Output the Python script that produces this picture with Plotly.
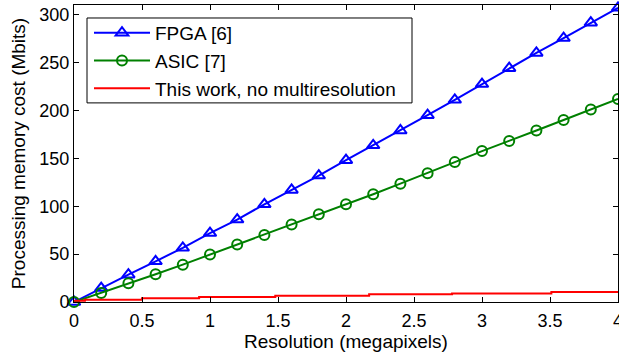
import plotly.graph_objects as go

# Data
res_x = [0, 0.2, 0.4, 0.6, 0.8, 1.0, 1.2, 1.4, 1.6, 1.8, 2.0,
         2.2, 2.4, 2.6, 2.8, 3.0, 3.2, 3.4, 3.6, 3.8, 4.0]
fpga = [0, 14.5, 28.5, 42.5, 56.5, 72, 86, 102, 117, 132, 148,
        163.5, 179, 195, 211, 227.5, 244, 260, 275.5, 291.5, 307]
asic = [0, 9.5, 19.5, 29, 39, 49.5, 60, 70, 81, 91.5, 102,
        112.5, 123.5, 134.5, 146, 157.5, 168, 179, 190, 201, 212]
this_x = [0, 0.08, 0.5, 0.92, 1.48, 2.17, 2.78, 3.51, 4.0]
this_y = [1.4, 2.4, 3.8, 5.2, 6.6, 8.2, 9.0, 10.4, 10.4]

x_ticks = [0, 0.5, 1, 1.5, 2, 2.5, 3, 3.5, 4]
x_ticklabels = ["0", "0.5", "1", "1.5", "2", "2.5", "3", "3.5", "4"]
y_ticks = [0, 50, 100, 150, 200, 250, 300]

FONT = "Liberation Sans, Arial, sans-serif"

fig = go.Figure()
fig.add_trace(go.Scatter(
    x=res_x, y=fpga, name="FPGA [6]", mode="lines+markers",
    line=dict(color="#0000FF", width=2),
    marker=dict(symbol="triangle-up-open", size=11, color="#0000FF",
                line=dict(width=2, color="#0000FF")),
    cliponaxis=False, legendgroup="a"))
fig.add_trace(go.Scatter(
    x=res_x, y=asic, name="ASIC [7]", mode="lines+markers",
    line=dict(color="#008000", width=2),
    marker=dict(symbol="circle-open", size=10, color="#008000",
                line=dict(width=2, color="#008000")),
    cliponaxis=False, legendgroup="b"))
fig.add_trace(go.Scatter(
    x=this_x, y=this_y, name="This work, no multiresolution", mode="lines",
    line=dict(color="#FF0000", width=2, shape="hv"), legendgroup="c"))

axis_common = dict(
    showline=True, linecolor="black", linewidth=1, mirror="ticks",
    ticks="inside", ticklen=5, tickcolor="black", showgrid=False,
    zeroline=False, automargin=False, ticklabeloverflow="allow",
    tickfont=dict(family=FONT, size=18, color="black"),
)
fig.update_xaxes(range=[0, 4], tickvals=x_ticks, ticktext=x_ticklabels,
                 ticklabelstandoff=2,
                 title=dict(text="Resolution (megapixels)",
                            font=dict(family=FONT, size=19, color="black"),
                            standoff=3),
                 **axis_common)
fig.update_yaxes(range=[0, 310], tickvals=y_ticks,
                 title=dict(text="Processing memory cost (Mbits)",
                            font=dict(family=FONT, size=19, color="black"),
                            standoff=8),
                 **axis_common)

# legend frame (drawn as a paper-space box behind the legend entries)
fig.add_shape(type="rect", xref="paper", yref="paper",
              x0=(87 - 74) / 544, x1=(412 - 74) / 544,
              y0=1 - (103 - 5) / 297.3, y1=1 - (18 - 5) / 297.3,
              line=dict(color="black", width=1), fillcolor="white",
              layer="above")

fig.update_layout(
    width=619, height=358,
    margin=dict(l=74, r=1, t=5, b=56),
    plot_bgcolor="white", paper_bgcolor="white",
    font=dict(family=FONT, size=18, color="black"),
    showlegend=True,
    legend=dict(x=(89 - 74) / 544, y=0.970, xanchor="left", yanchor="top",
                bgcolor="rgba(0,0,0,0)", borderwidth=0,
                font=dict(family=FONT, size=19, color="black"),
                tracegroupgap=0, itemwidth=56),
)

fig.write_html("out.html",
               config={"displayModeBar": False},
               post_script="document.body.style.margin='0px';"
                           "document.body.style.overflow='hidden';")
